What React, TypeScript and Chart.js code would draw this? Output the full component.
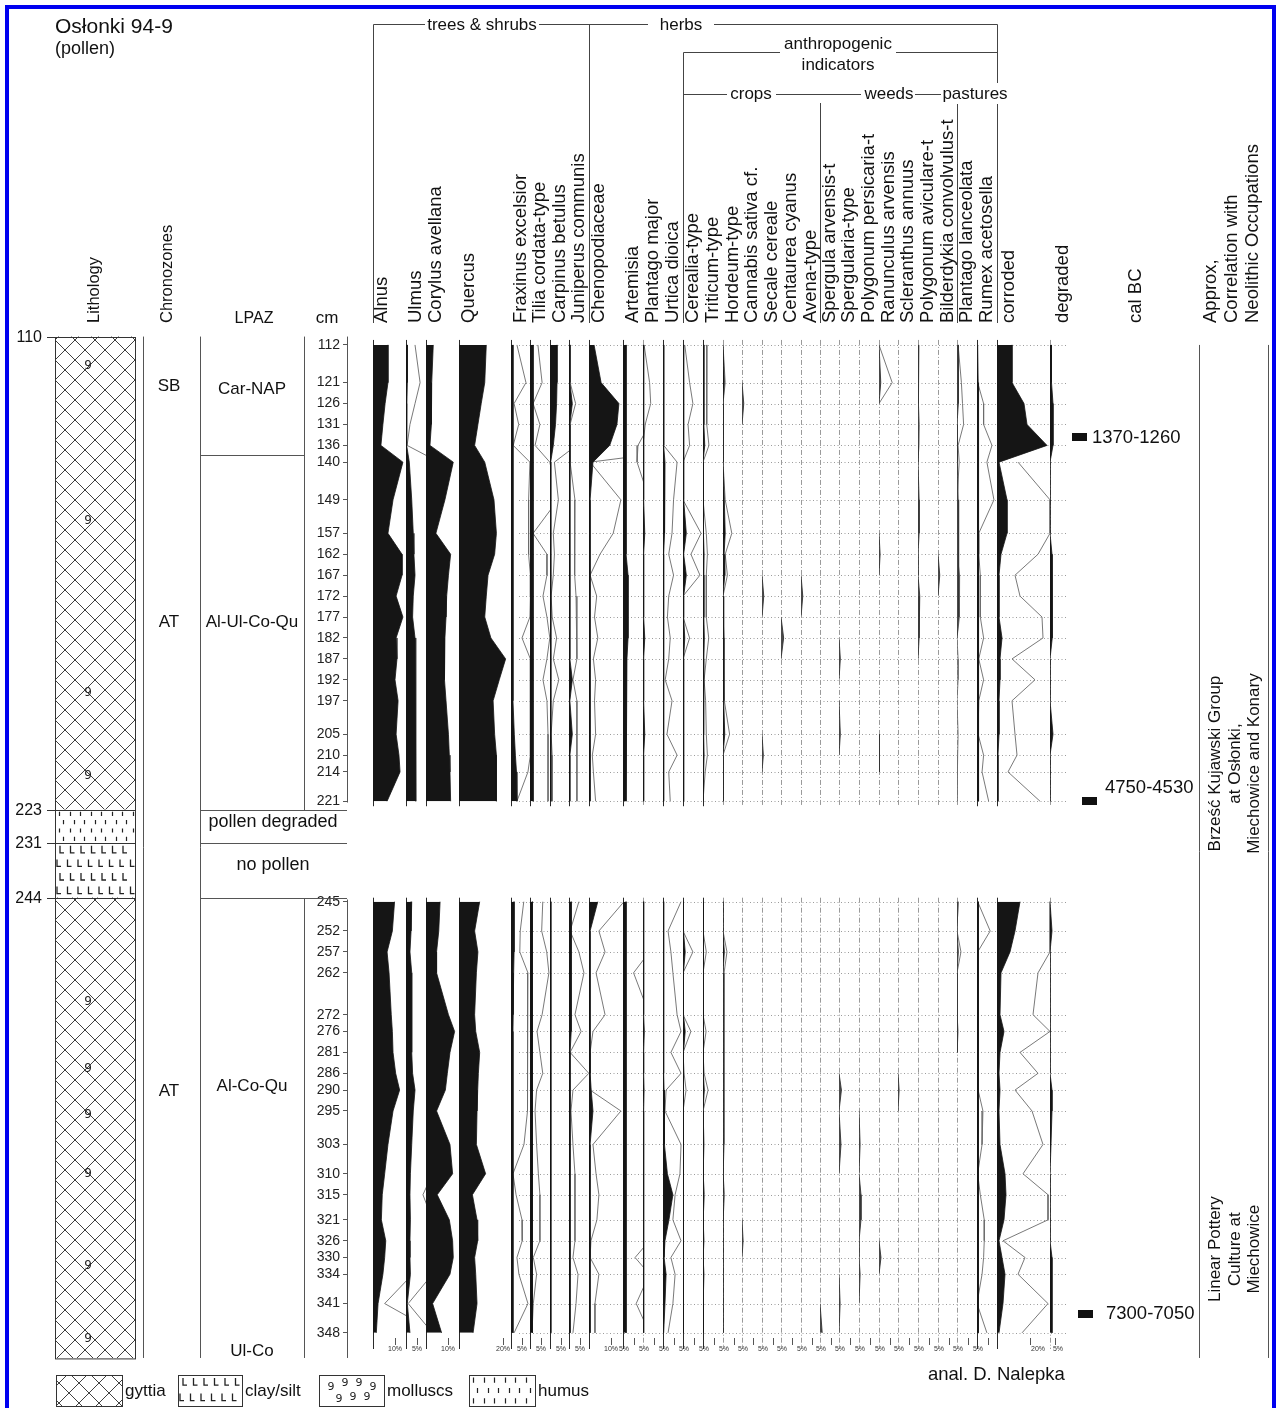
import React, { useEffect, useRef } from 'react';
import { Chart, registerables } from 'chart.js';

Chart.register(...registerables);

// ---------------- DATA ----------------
const depths = [112,121,126,131,136,140,149,157,162,167,172,177,182,187,192,197,205,210,214,221,
  245,252,257,262,272,276,281,286,290,295,303,310,315,321,326,330,334,341,348];

const taxa = ['Alnus','Ulmus','Corylus avellana','Quercus','Fraxinus excelsior','Tilia cordata-type',
  'Carpinus betulus','Juniperus communis','Chenopodiaceae','Artemisia','Plantago major','Urtica dioica',
  'Cerealia-type','Triticum-type','Hordeum-type','Cannabis sativa cf.','Secale cereale','Centaurea cyanus',
  'Avena-type','Spergula arvensis-t','Spergularia-type','Polygonum persicaria-t','Ranunculus arvensis',
  'Scleranthus annuus','Polygonum aviculare-t','Bilderdykia convolvulus-t','Plantago lanceolata',
  'Rumex acetosella','corroded','degraded'];

const scaleTicks = [10,5,10,20,5,5,5,5,10,5,5,5,5,5,5,5,5,5,5,5,5,5,5,5,5,5,5,5,null,5];
const degradedRevTick = 20;

const alnus = [6.8,6.8,5.5,4.5,3.6,13.6,9.1,6.8,13.2,13.2,10.5,13.6,10.5,10.9,10,11.4,10.5,11.8,12.3,6.4,
  9.8,8.8,6.4,7.3,8.3,8.8,9.1,10.3,12.1,9.1,6.8,5.3,4.2,3.8,5.8,5.3,4.5,2.3,1.5];
const alnusEx = [[334,18],[341,5.3],[348,29]];
const ulmus = [0.6,0.6,0.4,0.4,0.2,1.5,2.6,3.3,3.6,4.1,3.3,3,4.1,4.1,4.5,4.5,4.5,4.5,4.5,4.5,
  2.6,2.3,1.8,2.6,2.6,2.6,2.6,3,4.1,3.3,2.6,2,1.8,2,1.8,1.8,2,0.6,1.8];
const ulmusEx = [[112,4.1],[121,6.4],[126,4.1],[131,1.8],[136,0.5],[140,15],[149,null],
  [310,12],[315,7.7],[321,12],[326,null],[334,12],[341,1],[348,12]];
const corylus = [3.3,2.6,2.6,2.3,1.8,12.4,8.6,4.5,11.2,10.2,9.4,9.1,8.6,8.6,8.2,9.1,10.2,10.6,10.9,11.2,
  6.4,5.8,4.8,4.8,10.2,13,10.9,9.7,8.8,4.8,10.9,12.1,5.1,10.6,12.1,12.4,10.9,3,7.1];
const quercus = [12.4,11.7,10.1,8.6,7.1,11.7,15.9,17,16.2,13.2,12.4,11.7,14.5,21.2,18.3,15.5,16.2,17,17,17,
  9.4,7.1,8.6,7.9,7.1,7.6,9.4,8.8,8.5,8.2,7.9,12.1,6.1,8.2,8.5,7.1,7.6,8.2,6.4];
const fraxinus = [0.9,0.9,0.9,0.9,0.9,0.9,0.9,0.9,0.9,0.9,0.9,0.9,0.9,0.9,0.9,0.9,1.5,2,2.5,2.7,
  1.4,1.4,1.4,1.2,1,0.9,0.9,0.9,0.9,0.9,0.9,0.9,0.9,0.9,0.9,0.9,0.9,0.9,0.9];
const fraxinusEx = [2.7,6.8,1.4,3.5,1,8.6,8,8,8,8.8,8.8,8.6,5,8.8,8.8,8.8,8.8,8.8,7.7,2.7,
  5.8,4.2,4,7.7,7.7,7.7,7.7,7.3,7.3,7.3,5.9,0.9,2.3,5,5.1,2.7,3.6,7.7,1.4];
const tilia = [1.4,1.4,1.4,1.4,1.4,1.4,1.4,1.4,1.4,1.4,1.4,1.4,1.4,1.4,1.4,1.4,1.4,1.4,1.4,1.4,
  1.1,1.1,1.1,1.1,1.1,1.1,1.1,1.1,1.1,1.1,1.1,1.1,1.1,1.1,1.1,1.1,1.1,1.1,1.1];
const tiliaEx = [3.6,5.5,1.4,4.5,2.3,9,12.7,1.4,7.7,7.7,5.9,7.7,9,7.7,5.9,7.7,8.2,8.2,8.2,8.2,
  5.8,5.3,7.6,8.6,5.5,3.2,4.5,5.8,3,2.3,3,3.8,4.5,4.5,4.5,1.5,3,1.5,0.9];
const carpinus = [3.2,3.2,3,2.5,1.5,0.3,0.4,0.4,0.4,0.4,0.4,0.4,0.4,0.4,0.4,0.4,0.4,0.4,0.4,0.4,
  0.4,0.4,0.4,0.4,0.4,0.4,0.4,0.4,0.4,0.4,0.4,0.4,0.4,0.4,0.4,0.4,0.4,0.4,0.4];
const carpinusEx = [[112,12],[121,12],[126,12],[131,12],[136,12],[140,2],[149,3.8],[157,1.5],[162,2],
  [167,1.5],[172,0.5],[177,1],[182,3],[187,1.5],[192,4],[197,1.5],[205,0.5],[210,1],[214,1],[221,1]];
const juniperus = [0.4,0.4,1.5,0.4,0.4,0.4,0.4,0.4,0.4,0.4,0.4,0.4,0.4,0.4,1.5,0.4,1.5,0.4,0.4,0.4,
  1,1,1,1,1,1,0.5,0.5,0.5,0.5,0.5,0.5,0.5,0.5,0.5,0.5,0.5,0.5,0.5];
const juniperusEx = [0.5,0.5,3,0.5,0.5,0.5,2.7,2.3,2.7,2.7,3.2,3.6,3.6,3.6,1.8,3.6,3.6,3.6,3.6,3.6,
  4.5,0.5,4.5,6.8,2.7,5.5,0.5,9,1.8,0.9,1.8,2.7,2.7,2.7,2.7,1.8,4.1,3.2,1.8];
const cheno = [2.3,5.5,13.6,12.7,9.4,1.8,0.5,0.5,0.5,0.5,0.5,0.5,0.5,0.5,0.5,0.5,0.5,0.5,0.5,0.5,
  4,0.5,0.5,0.5,0.5,0.5,0.5,0.5,1,1.8,0.5,0.5,0.5,0.5,0.5,0.5,0.5,0.5,0.5];
const chenoEx = [null,null,null,null,60,0.5,14.5,11,5,0.5,3.5,2.5,4,2,3,2.5,3,1.5,2,3,
  15.9,4.5,7.3,3.2,7.3,1.8,0.5,0.5,0.5,14.5,1.8,3.2,4.5,3.6,0.9,0.5,4.5,2.7,2.7];
const artemisia = [1.4,1.4,1.4,1.4,1.4,1.4,1.4,1.4,1.4,2.3,2.3,2.3,2.3,1.8,1.4,1.4,1.4,1.4,1.4,1.4,
  1.4,1.4,1.4,1.4,1.4,1.4,1.4,1.4,1.4,1.4,1.4,1.4,1.4,1.4,1.4,1.4,1.4,1.4,1.4];
const artemisiaEx = [[131,12],[136,6.8],[140,6.4],[149,12],[157,null],[257,12],[262,4.8],[272,12],
  [276,null],[326,12],[330,5.5],[334,12],[341,6],[348,12]];
const plantagoMajor = [0.3,0.3,0.3,0.3,0.3,0.3,0.3,0.8,0.3,0.3,0.3,0.3,0.8,0.3,0.3,0.3,0.8,0.3,0.3,0.3,
  0.3,0.3,0.3,0.3,0.3,0.6,0.3,0.3,0.5,0.3,0.3,0.3,0.3,0.3,0.3,0.3,0.3,0.3,0.3];
const plantagoMajorEx = [[112,0.5],[121,3],[126,3.5],[131,1],[136,0]];
const urtica = [0.3,0.3,0.3,0.3,0.3,0.9,0.9,0.5,0.3,0.3,0.3,0.3,0.3,0.3,0.3,0.3,0.3,0.3,0.3,0.3,
  0.3,0.3,0.3,0.3,0.3,0.3,0.3,0.3,0.5,0.5,0.8,2,4.5,2.7,0.9,0.5,1.4,0.9,0.3];
const urticaEx = [0.3,0.3,0.3,0.3,0.3,6.4,4.8,4.1,2.6,4.8,2.6,2,3.3,2.6,1,4.1,1.8,6.4,2.6,3.3,
  8.2,2.3,3.6,4.5,6.4,8.2,3.6,8.2,1.4,0.9,8.2,7.7,5.5,4.5,8.2,3.6,5.5,4.5,2.3];
const cerealia = [0.3,0.3,0.3,0.3,0.3,0.3,0.3,1.5,0.3,1.5,0.3,0.3,0.8,0.3,0.3,0.3,0.3,0.3,0.3,0.3,
  0.2,0.2,1,0.2,0.2,1,0.2,0.2,0.2,0.2,0.2,0.2,0.2,0.2,0.2,0.2,0.2,0.2,0.2];
const cerealiaEx = [[112,0.8],[121,3],[126,4.5],[131,2.3],[136,3],[140,0],[149,0],[157,8.2],[162,3.6],
  [167,7.7],[172,0],[177,0],[182,3],[187,0],[192,null],[252,0],[257,4.5],[262,0],[272,0],[276,3.6],
  [281,0],[286,0.5],[290,1.4],[295,0]];
const triticum = [0.4,0.4,0.4,0.4,0.8,0,0,0.4,0.5,0.4,0.4,0.4,0.6,0.4,0.2,0.3,0.4,0.5,0.3,0,
  0,0,0.4,0,0,0.4,0,0.2,0.6,0,0.2,0,0.2,0,0.2,0,0.2,0,0];
const triticumEx = [1.8,1.8,1.8,1.5,2.7,0,0,1.5,2,1.5,1.5,1.5,2.6,1.5,0.5,1.2,1.5,2,1,0,
  null,0,1.5,0,0,1.4,0,0.5,2.3,0,0.5,0,0.7,0,0.5,0,0.5,0,null];
const hordeum = [0,0.6,0,0,0,0,0.6,1,0.5,0.8,0,0,0.4,0.4,0.4,0.4,0.8,0,0,0,
  0,0,0.6,0,0,0,0,0,0,0,0,0,0,0,0,0,0,0,0];
const hordeumEx = [0,1,0,0,0,0,1,4,1,2,0,0,0.5,0.5,0.8,0.5,3,0,0,0,
  null,0,1.8,0.5,0.5,0.5,0.5,0.5,0.5,0.5,0.7,0,0.7,0,null,null,null,null,null];
const cannabis = [[121,0],[126,0.8],[131,0],[131,null],[321,0],[326,0.5],[330,0]];
const secale = [[167,0],[172,0.8],[177,0],[177,null],[205,0],[210,0.6],[214,0]];
const centaurea = [[177,0],[182,1.2],[187,0]];
const avena = [[167,0],[172,0.8],[177,0]];
const spergula = [[341,0],[348,1]];
const spergularia = [[182,0],[187,0.6],[192,0],[192,null],[197,0],[205,0.6],[210,0],[210,null],
  [286,0],[290,1.1],[295,0],[303,0.9],[310,0],[310,null],[334,0],[341,0.5],[348,0]];
const polygonumPers = [[295,0],[303,0.5],[310,0],[315,0.9],[321,0.9],[326,0],[330,0],[334,0.5],[341,0]];
const ranunculus = [[112,0],[121,0.8],[126,0],[126,null],[157,0],[162,0.5],[167,0],[167,null],
  [205,0],[210,0.4],[214,0],[214,null],[326,0],[330,0.9],[334,0]];
const ranunculusEx = [[112,0],[121,6],[126,0]];
const scleranthus = [[286,0],[290,0.5],[295,0]];
const polygonumAvic = [[112,0.4],[121,0.4],[126,0],[131,0.5],[136,0.4],[140,0],[149,0.5],[157,0.5],
  [162,0],[167,0],[172,0.8],[177,0.5],[182,0.5],[187,0]];
const bilderdykia = [[162,0],[167,0.8],[172,0]];
const plantagoLanc = [[112,0.6],[121,0.6],[126,0.6],[131,0],[136,0],[140,0.4],[149,0.5],[157,0.5],
  [162,0.5],[167,0.9],[172,0.9],[177,0.9],[182,0],[187,null],[245,0.5],[252,0],[257,0.6],[262,0],
  [272,0],[276,0.3],[281,0]];
const plantagoLancEx = [[112,0.5],[121,2],[126,2.5],[131,3],[136,0.5],[140,1],[149,0],[157,0],[162,0],
  [167,1.2],[172,1.2],[177,1],[182,0],[187,0.5],[192,0.5],[197,0],[205,0.5],[210,0.3],[214,0],[221,0],
  [233,null],[245,0.5],[252,0],[257,1.8],[262,0],[272,0],[276,0.5],[281,0]];
const rumex = [0.2,0.5,0.7,0.7,0.7,0.7,0.7,0.7,0.7,0.7,0.7,0.7,0.7,0.7,0.7,0.7,0.7,0.7,0.7,0.7,
  0.6,0.6,0.6,0.6,0.6,0.6,0.6,0.6,0.6,0.6,0.6,0.6,0.6,0.6,0.6,0.6,0.6,0.6,0.6];
const rumexEx = [0,0.3,3,3,6.8,4.5,7.7,0.8,0.8,1.5,1.5,1.5,3,0.8,3,0.8,0.5,3,2.3,5.3,
  0.3,6,0.3,0.3,0.3,0.3,0.3,0.3,0.5,2.7,2.3,0.3,1.5,3.3,3.3,3,2.3,0,4.5];
const corroded = [15,15,27,30,50,2,10,10,4,2,2,2,5,3,3,2,2,1,1,1,
  23,18,13,4,3,7,3,2,3,2,3,8,9,7,2,5,8,6,2];
const degraded = [1.5,1.5,3,3,3,0,0,0,2,2,2,2.5,2.5,0,0,0,3,0,0,0,
  0,2,0,0,0,0,0,0,2,2,1,0,0,0,0,2,2,2,2];
const degradedEx = [null,null,null,null,null,32,0,0,12,35,30,8,7,38,15,38,35,33,42,10,
  0,0,0,12,17,0,30,12,35,18,7,27,2,2,47,25,32,2,28];

// stratigraphy / annotation data
const lithoUnits = [
  { from: 110, to: 223, type: 'gyttia' },
  { from: 223, to: 231, type: 'humus' },
  { from: 231, to: 244, type: 'clay' },
  { from: 244, to: 354, type: 'gyttia' },
];
const lithoDepthLabels = [110, 223, 231, 244];
const molluscDepths = [117, 154, 195, 215, 269, 285, 296, 310, 332, 349.5];
const chronozones = [{ name: 'SB', depth: 122 }, { name: 'AT', depth: 178.2 }, { name: 'AT', depth: 290.2 }];
const lpazLabels = [
  { name: 'Car-NAP', depth: 122.5, size: 17, wide: false },
  { name: 'Al-Ul-Co-Qu', depth: 178.2, size: 17, wide: false },
  { name: 'pollen degraded', depth: 226, size: 18, wide: true },
  { name: 'no pollen', depth: 236.2, size: 18, wide: true },
  { name: 'Al-Co-Qu', depth: 289, size: 17, wide: false },
  { name: 'Ul-Co', depth: 352.3, size: 17, wide: false },
];
const lpazBoundary = 138.3;
const dates = [
  { label: '1370-1260', depth: 134.1 },
  { label: '4750-4530', depth: 221 },
  { label: '7300-7050', depth: 343.4 },
];
const occupations = [
  { lines: ['Brześć Kujawski Group', 'at Osłonki,', 'Miechowice and Konary'], depth: 212 },
  { lines: ['Linear Pottery', 'Culture at', 'Miechowice'], depth: 328 },
];

// ---------------- LAYOUT ----------------
const W = 1276, H = 1408;
const AREA = { left: 347, right: 1068, top: 331, bottom: 1345 };
const Y_MIN = 108.67, Y_MAX = 350.9;
const FIRST_AXIS = 373;
const colWidths = [33,20,33,52,19,20,19,20,34,20,20,20,20,20,19,20,19,20,19,19,20,20,19,20,20,19,20,20,53,18];
const PX_PER_PCT = 2.2;
const PX_PER_PCT_PRES = 1;
const baseSolid = [1,1,1,1,1,1,1,1,1,1,0,1,1,1,0,0,0,0,0,0,0,0,0,0,0,0,0,1,1,0];
const labelDx = [14,14.5,14.5,14.5,14.5,14.5,14.5,14.5,14.5,14.5,14.5,14.5,14.5,14.5,14.5,14.5,14.5,14.5,14.5,14.5,14.5,14.5,14.5,14.5,14.5,14.5,14.5,14.5,17,18];
const FONT = "'Liberation Sans', Arial, Helvetica, sans-serif";

const axes: number[] = [];
colWidths.reduce((acc, w) => { axes.push(acc); return acc + w; }, FIRST_AXIS);
const pxPer = (i: number) => (i >= 28 ? PX_PER_PCT_PRES : PX_PER_PCT);

const GAP_AFTER = 19;
const GAP_DEPTH = 233;
function full(arr: (number | null)[]) {
  const pts: any[] = [];
  arr.forEach((v, i) => {
    pts.push({ x: v, y: depths[i] });
    if (i === GAP_AFTER) pts.push({ x: null, y: GAP_DEPTH });
  });
  return pts;
}
function sparse(pairs: any[]) {
  return pairs.map(([d, v]) => ({ x: v, y: d }));
}

const FILL = 'fill', EX = 'ex', BLIP = 'blip';
const series: any[] = [
  { col: 0, kind: FILL, pts: full(alnus) }, { col: 0, kind: EX, pts: sparse(alnusEx) },
  { col: 1, kind: FILL, pts: full(ulmus) }, { col: 1, kind: EX, pts: sparse(ulmusEx) },
  { col: 2, kind: FILL, pts: full(corylus) },
  { col: 3, kind: FILL, pts: full(quercus) },
  { col: 4, kind: FILL, pts: full(fraxinus) }, { col: 4, kind: EX, pts: full(fraxinusEx) },
  { col: 5, kind: FILL, pts: full(tilia) }, { col: 5, kind: EX, pts: full(tiliaEx) },
  { col: 6, kind: FILL, pts: full(carpinus) }, { col: 6, kind: EX, pts: sparse(carpinusEx) },
  { col: 7, kind: FILL, pts: full(juniperus) }, { col: 7, kind: EX, pts: full(juniperusEx) },
  { col: 8, kind: FILL, pts: full(cheno) }, { col: 8, kind: EX, pts: full(chenoEx) },
  { col: 9, kind: FILL, pts: full(artemisia) }, { col: 9, kind: EX, pts: sparse(artemisiaEx) },
  { col: 10, kind: FILL, pts: full(plantagoMajor) }, { col: 10, kind: EX, pts: sparse(plantagoMajorEx) },
  { col: 11, kind: FILL, pts: full(urtica) }, { col: 11, kind: EX, pts: full(urticaEx) },
  { col: 12, kind: FILL, pts: full(cerealia) }, { col: 12, kind: EX, pts: sparse(cerealiaEx) },
  { col: 13, kind: FILL, pts: full(triticum) }, { col: 13, kind: EX, pts: full(triticumEx) },
  { col: 14, kind: FILL, pts: full(hordeum) }, { col: 14, kind: EX, pts: full(hordeumEx) },
  { col: 15, kind: BLIP, pts: sparse(cannabis) },
  { col: 16, kind: BLIP, pts: sparse(secale) },
  { col: 17, kind: BLIP, pts: sparse(centaurea) },
  { col: 18, kind: BLIP, pts: sparse(avena) },
  { col: 19, kind: BLIP, pts: sparse(spergula) },
  { col: 20, kind: BLIP, pts: sparse(spergularia) },
  { col: 21, kind: BLIP, pts: sparse(polygonumPers) },
  { col: 22, kind: BLIP, pts: sparse(ranunculus) }, { col: 22, kind: EX, pts: sparse(ranunculusEx) },
  { col: 23, kind: BLIP, pts: sparse(scleranthus) },
  { col: 24, kind: BLIP, pts: sparse(polygonumAvic) },
  { col: 25, kind: BLIP, pts: sparse(bilderdykia) },
  { col: 26, kind: BLIP, pts: sparse(plantagoLanc) }, { col: 26, kind: EX, pts: sparse(plantagoLancEx) },
  { col: 27, kind: FILL, pts: full(rumex) }, { col: 27, kind: EX, pts: full(rumexEx) },
  { col: 28, kind: FILL, pts: full(corroded) },
  { col: 29, kind: FILL, pts: full(degraded) },
  { col: 28, kind: EX, pts: full(degradedEx), axis: 'xrev' },
];

// ---------------- DRAW HELPERS ----------------
function text(ctx: any, s: string, x: number, y: number, size: number, o: any = {}) {
  ctx.save();
  ctx.font = `${o.weight || ''} ${size}px ${o.family || FONT}`;
  ctx.fillStyle = o.color || '#111';
  ctx.textAlign = o.align || 'left';
  ctx.textBaseline = o.base || 'alphabetic';
  if (o.rot) { ctx.translate(x, y); ctx.rotate(-Math.PI / 2); ctx.fillText(s, 0, 0); }
  else ctx.fillText(s, x, y);
  ctx.restore();
}
function seg(ctx: any, x1: number, y1: number, x2: number, y2: number, color = '#333', w = 1, dash: number[] = []) {
  ctx.save();
  ctx.strokeStyle = color; ctx.lineWidth = w; ctx.setLineDash(dash);
  ctx.beginPath(); ctx.moveTo(x1, y1); ctx.lineTo(x2, y2); ctx.stroke();
  ctx.restore();
}
const px = (v: number) => Math.round(v) + 0.5;

function gyttia(ctx: any, x0: number, y0: number, w: number, h: number) {
  ctx.save();
  ctx.beginPath(); ctx.rect(x0, y0, w, h); ctx.clip();
  ctx.strokeStyle = '#2a2a2a'; ctx.lineWidth = 0.9;
  ctx.beginPath();
  const step = 20;
  for (let yy = Math.floor((y0 - w) / step) * step; yy < y0 + h + w; yy += step) {
    ctx.moveTo(x0, yy); ctx.lineTo(x0 + w, yy + w);
    ctx.moveTo(x0, yy + w); ctx.lineTo(x0 + w, yy);
  }
  ctx.stroke();
  ctx.restore();
}
function humus(ctx: any, x0: number, y0: number, w: number, h: number) {
  const rows = Math.max(2, Math.round(h / 9.5));
  const rh = h / rows;
  ctx.save(); ctx.strokeStyle = '#222'; ctx.lineWidth = 1.2; ctx.beginPath();
  for (let r = 0; r < rows; r++) {
    const y = y0 + r * rh + rh * 0.25;
    for (let x = x0 + 4 + (r % 2) * 4; x < x0 + w - 2; x += 10.5) {
      ctx.moveTo(px(x), y); ctx.lineTo(px(x), y + rh * 0.5);
    }
  }
  ctx.stroke(); ctx.restore();
}
function clay(ctx: any, x0: number, y0: number, w: number, h: number) {
  const rows = Math.max(2, Math.round(h / 14));
  const rh = h / rows;
  ctx.save(); ctx.strokeStyle = '#222'; ctx.lineWidth = 1.3; ctx.beginPath();
  for (let r = 0; r < rows; r++) {
    const y = y0 + r * rh + rh * 0.2;
    for (let x = x0 + 5 + (r % 2) * -3; x < x0 + w - 4; x += 10.5) {
      if (x < x0 + 1) continue;
      ctx.moveTo(x, y); ctx.lineTo(x, y + 7); ctx.lineTo(x + 4, y + 7);
    }
  }
  ctx.stroke(); ctx.restore();
}
function mollusc(ctx: any, x: number, y: number, size = 12) {
  text(ctx, '9', x, y, size, { align: 'center', base: 'middle', family: "'DejaVu Sans', sans-serif", color: '#222' });
}

// ---------------- PLUGIN ----------------
const decor = {
  id: 'decor',
  beforeDraw(chart: any) {
    const ctx = chart.ctx;
    ctx.save(); ctx.fillStyle = '#fff'; ctx.fillRect(0, 0, W, H); ctx.restore();
  },
  beforeDatasetsDraw(chart: any) {
    const ctx = chart.ctx;
    const ys = chart.scales.y;
    const yy = (d: number) => ys.getPixelForValue(d);
    // dotted sample lines
    const x0 = chart.scales.x4.getPixelForValue(0) + 8;
    ctx.save();
    ctx.strokeStyle = '#9c9c9c'; ctx.lineWidth = 1; ctx.setLineDash([1, 2.5]);
    depths.forEach((d) => {
      const y = px(yy(d));
      ctx.beginPath(); ctx.moveTo(x0, y); ctx.lineTo(AREA.right, y); ctx.stroke();
    });
    ctx.restore();
    // column baselines
    const top1 = yy(depths[0]) - 5, bot1 = yy(depths[GAP_AFTER]) + 5;
    const top2 = yy(depths[GAP_AFTER + 1]) - 4, bot2 = AREA.bottom + 4;
    colWidths.forEach((_, i) => {
      const x = px(chart.scales['x' + i].getPixelForValue(0));
      const solid = baseSolid[i] === 1;
      const col = solid ? '#2a2a2a' : '#9a9a9a';
      const dash = solid ? [] : [5, 2, 1, 2];
      seg(ctx, x, top1, x, bot1, col, 1, dash);
      seg(ctx, x, top2, x, bot2, col, 1, dash);
    });
  },
  afterDraw(chart: any) {
    const ctx = chart.ctx;
    const ys = chart.scales.y;
    const yy = (d: number) => ys.getPixelForValue(d);
    const ax = (i: number) => chart.scales['x' + i].getPixelForValue(0);

    // ---- bottom scale ticks ----
    colWidths.forEach((_, i) => {
      const t = scaleTicks[i];
      if (t == null) return;
      const x = chart.scales['x' + i].getPixelForValue(t);
      seg(ctx, px(x), AREA.bottom - 7, px(x), AREA.bottom, '#555', 1);
      const dx = i >= 9 && i <= 27 ? -10 : i === 29 ? 3 : 0;
      text(ctx, t + '%', x + dx, AREA.bottom + 1, 7, { align: 'center', base: 'top', color: '#333' });
    });
    {
      const x = chart.scales.xrev.getPixelForValue(degradedRevTick);
      seg(ctx, px(x), AREA.bottom - 7, px(x), AREA.bottom, '#555', 1);
      text(ctx, degradedRevTick + '%', x + 8, AREA.bottom + 1, 7, { align: 'center', base: 'top', color: '#333' });
    }

    // ---- title ----
    text(ctx, 'Osłonki 94-9', 55, 33, 21);
    text(ctx, '(pollen)', 55, 54, 18);

    // ---- group brackets ----
    const aA = px(ax(0)), aC = px(ax(8)), aCe = px(ax(12)), aS = px(ax(19)), aP = px(ax(26)), aR = px(ax(28));
    const lc = '#444';
    seg(ctx, aA, 24.5, aA, 323, lc);
    seg(ctx, aA, 24.5, 425, 24.5, lc);
    text(ctx, 'trees & shrubs', 482, 25, 17, { align: 'center', base: 'middle' });
    seg(ctx, 539, 24.5, 648, 24.5, lc);
    text(ctx, 'herbs', 681, 25, 17, { align: 'center', base: 'middle' });
    seg(ctx, 714, 24.5, aR, 24.5, lc);
    seg(ctx, aC, 24.5, aC, 323, lc);
    seg(ctx, aR, 24.5, aR, 83, lc);
    seg(ctx, aR, 104, aR, 323, lc);
    seg(ctx, aCe, 52.5, 780, 52.5, lc);
    text(ctx, 'anthropogenic', 838, 49, 17, { align: 'center' });
    text(ctx, 'indicators', 838, 70, 17, { align: 'center' });
    seg(ctx, 896, 52.5, aR, 52.5, lc);
    seg(ctx, aCe, 52.5, aCe, 323, lc);
    seg(ctx, aCe, 94.5, 727, 94.5, lc);
    text(ctx, 'crops', 751, 94, 17, { align: 'center', base: 'middle' });
    seg(ctx, 776, 94.5, 861, 94.5, lc);
    text(ctx, 'weeds', 889, 94, 17, { align: 'center', base: 'middle' });
    seg(ctx, 915, 94.5, 941, 94.5, lc);
    text(ctx, 'pastures', 975, 94, 17, { align: 'center', base: 'middle' });
    seg(ctx, aS, 103, aS, 323, lc);
    seg(ctx, aP, 104, aP, 323, lc);

    // ---- taxa labels ----
    taxa.forEach((t, i) => text(ctx, t, ax(i) + labelDx[i], 323, 18.5, { rot: true }));

    // ---- left headers ----
    text(ctx, 'Lithology', 99, 323, 16.5, { rot: true });
    text(ctx, 'Chronozones', 172, 323, 16.5, { rot: true });
    text(ctx, 'LPAZ', 254, 323, 16, { align: 'center' });
    text(ctx, 'cm', 327, 323, 17, { align: 'center' });

    // ---- right headers ----
    text(ctx, 'cal BC', 1141, 323, 18.5, { rot: true });
    text(ctx, 'Approx,', 1216, 323, 18.5, { rot: true });
    text(ctx, 'Correlation with', 1237, 323, 18.5, { rot: true });
    text(ctx, 'Neolithic Occupations', 1258, 323, 18.5, { rot: true });

    // ---- lithology ----
    const lx0 = 55, lw = 80;
    lithoUnits.forEach((u) => {
      const y0 = yy(u.from), y1 = yy(u.to);
      if (u.type === 'gyttia') gyttia(ctx, lx0, y0, lw, y1 - y0);
      else if (u.type === 'humus') humus(ctx, lx0, y0, lw, y1 - y0);
      else clay(ctx, lx0, y0, lw, y1 - y0);
    });
    molluscDepths.forEach((d) => mollusc(ctx, 88, yy(d)));
    const lTop = yy(lithoUnits[0].from), lBot = yy(lithoUnits[lithoUnits.length - 1].to);
    ctx.save(); ctx.strokeStyle = '#333'; ctx.lineWidth = 1;
    ctx.strokeRect(lx0 + 0.5, px(lTop), lw, lBot - lTop); ctx.restore();
    lithoDepthLabels.forEach((d) => {
      const y = px(yy(d));
      seg(ctx, 47, y, lx0 + lw, y, '#333');
      text(ctx, String(d), 42, y, 16, { align: 'right', base: 'middle' });
    });

    // ---- column separators ----
    const y223 = px(yy(223)), y231 = px(yy(231)), y244 = px(yy(244));
    seg(ctx, 143.5, lTop, 143.5, lBot, '#555');
    seg(ctx, 200.5, lTop, 200.5, lBot, '#555');
    seg(ctx, 304.5, lTop, 304.5, y223, '#555');
    seg(ctx, 304.5, y244, 304.5, lBot, '#555');
    seg(ctx, AREA.left + 0.5, lTop, AREA.left + 0.5, y223 - 8, '#555');
    seg(ctx, AREA.left + 0.5, y244 + 1, AREA.left + 0.5, lBot, '#555');
    seg(ctx, 200, px(yy(lpazBoundary)), 304, px(yy(lpazBoundary)), '#555');
    [y223, y231, y244].forEach((y) => seg(ctx, 200, y, AREA.left, y, '#555'));

    chronozones.forEach((c) => text(ctx, c.name, 169, yy(c.depth), 17, { align: 'center', base: 'middle' }));
    lpazLabels.forEach((l) => text(ctx, l.name, l.wide ? 273 : 252, yy(l.depth), l.size, { align: 'center', base: 'middle' }));

    // ---- dates ----
    const barX = [1072, 1082, 1078];
    const txtX = [1092, 1105, 1106];
    const txtDy = [0, -13, 0];
    dates.forEach((d, i) => {
      const y = yy(d.depth);
      ctx.save(); ctx.fillStyle = '#111'; ctx.fillRect(barX[i], Math.round(y - 4), 15, 8); ctx.restore();
      text(ctx, d.label, txtX[i], y + txtDy[i], 18.5, { base: 'middle' });
    });

    // ---- occupations ----
    const occTop = yy(depths[0]);
    seg(ctx, 1199.5, occTop, 1199.5, lBot, '#555');
    seg(ctx, 1268.5, occTop, 1268.5, lBot, '#555');
    const occX = [1220, 1239.5, 1258.5];
    occupations.forEach((o) => {
      o.lines.forEach((ln, j) => text(ctx, ln, occX[j], yy(o.depth), 17, { rot: true, align: 'center' }));
    });

    // ---- legend ----
    const ly = 1375, lh = 31;
    const boxes = [
      { x: 56, w: 66, name: 'gyttia', type: 'gyttia' },
      { x: 178, w: 64, name: 'clay/silt', type: 'clay' },
      { x: 319, w: 65, name: 'molluscs', type: 'mollusc' },
      { x: 469, w: 66, name: 'humus', type: 'humus' },
    ];
    boxes.forEach((b) => {
      if (b.type === 'gyttia') gyttia(ctx, b.x, ly, b.w, lh);
      else if (b.type === 'clay') clay(ctx, b.x, ly, b.w, lh);
      else if (b.type === 'humus') humus(ctx, b.x, ly, b.w, lh);
      else {
        [[12, 12], [26, 8], [40, 8], [54, 12], [20, 24], [34, 22], [48, 22]].forEach(([dx, dy]) =>
          mollusc(ctx, b.x + dx, ly + dy, 11));
      }
      ctx.save(); ctx.strokeStyle = '#333'; ctx.lineWidth = 1;
      ctx.strokeRect(b.x + 0.5, ly + 0.5, b.w, lh); ctx.restore();
      text(ctx, b.name, b.x + b.w + 3, ly + lh / 2 + 1, 17, { base: 'middle' });
    });
    text(ctx, 'anal. D. Nalepka', 928, 1375, 18.5, { base: 'middle' });

    // ---- frame ----
    ctx.save(); ctx.strokeStyle = '#0000f0'; ctx.lineWidth = 4;
    ctx.strokeRect(7, 7, W - 9, H + 20); ctx.restore();
  },
};

// ---------------- COMPONENT ----------------
export default function App() {
  const ref = useRef<HTMLCanvasElement>(null);
  useEffect(() => {
    const scales: any = {
      y: {
        type: 'linear', position: 'left', reverse: true, min: Y_MIN, max: Y_MAX,
        afterFit: (s: any) => { s.width = 42; },
        afterBuildTicks: (s: any) => { s.ticks = depths.map((v) => ({ value: v })); },
        ticks: { autoSkip: false, font: { size: 14, family: FONT }, color: '#222', padding: 3 },
        grid: { drawOnChartArea: false, drawTicks: true, tickLength: 4, color: '#555' },
        border: { display: false },
      },
    };
    const span = AREA.right - AREA.left;
    colWidths.forEach((_, i) => {
      const k = pxPer(i);
      const min = -(axes[i] - AREA.left) / k;
      scales['x' + i] = { type: 'linear', axis: 'x', display: false, min, max: min + span / k };
    });
    {
      const a = axes[29];
      const min = -(AREA.right - a) / PX_PER_PCT_PRES;
      scales.xrev = { type: 'linear', axis: 'x', display: false, reverse: true, min, max: min + span / PX_PER_PCT_PRES };
    }

    const datasets = series.map((s) => {
      const left = axes[s.col], right = axes[s.col] + colWidths[s.col];
      const base: any = {
        type: 'line', data: s.pts, xAxisID: s.axis || 'x' + s.col, yAxisID: 'y',
        pointRadius: 0, pointHoverRadius: 0, tension: 0, spanGaps: false,
        clip: { left: -(left - AREA.left), right: -(AREA.right - right), top: 0, bottom: 0 },
      };
      if (s.kind === FILL) return { ...base, borderColor: '#151515', backgroundColor: '#151515', borderWidth: 0.8, fill: { value: 0 }, order: 0 };
      if (s.kind === BLIP) return { ...base, borderColor: '#333', backgroundColor: '#4a4a4a', borderWidth: 0.9, fill: { value: 0 }, order: 0 };
      return { ...base, borderColor: '#6a6a6a', borderWidth: 0.9, fill: false, order: 1 };
    });

    const chart = new Chart(ref.current as HTMLCanvasElement, {
      type: 'line',
      data: { datasets },
      options: {
        indexAxis: 'y',
        animation: false,
        responsive: false,
        devicePixelRatio: 1,
        events: [],
        parsing: true,
        layout: { padding: { left: 305, right: W - AREA.right, top: AREA.top, bottom: H - AREA.bottom } },
        scales,
        plugins: { legend: { display: false }, tooltip: { enabled: false } },
      } as any,
      plugins: [decor],
    } as any);
    return () => chart.destroy();
  }, []);
  return (
    <div style={{ position: 'absolute', left: 0, top: 0, width: W, height: H, background: '#fff' }}>
      <canvas ref={ref} width={W} height={H} style={{ display: 'block', width: W, height: H }} />
    </div>
  );
}
